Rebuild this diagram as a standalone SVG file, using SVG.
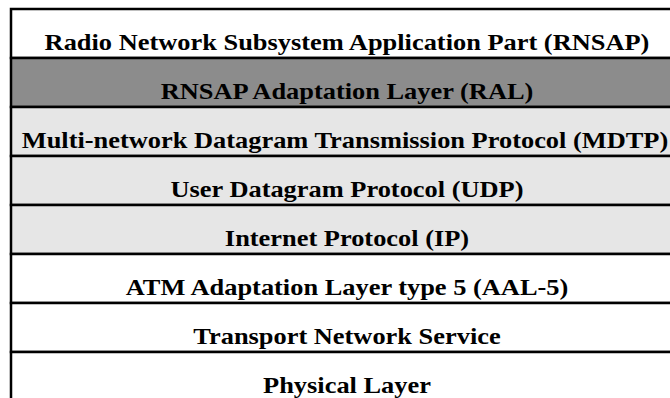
<svg xmlns="http://www.w3.org/2000/svg" width="670" height="398" viewBox="0 0 670 398">
<style>
.row{stroke:#000;stroke-width:2.5}
.w{fill:#fff}.d{fill:#8c8c8c}.l{fill:#e6e6e6}
text{font-family:"Liberation Serif","Times New Roman",serif;font-weight:bold;font-size:24px;fill:#000;text-anchor:middle}
</style>
<rect x="0" y="0" width="670" height="398" fill="#fff"/>
<g id="rnsap"><rect class="row w" x="11" y="9" width="670" height="49"/><text transform="translate(347,50) scale(1.1,1)">Radio Network Subsystem Application Part (RNSAP)</text></g>
<g id="ral"><rect class="row d" x="11" y="58" width="670" height="49"/><text transform="translate(347,99) scale(1.1,1)">RNSAP Adaptation Layer (RAL)</text></g>
<g id="mdtp"><rect class="row l" x="11" y="107" width="670" height="49"/><text transform="translate(345,148) scale(1.1,1)">Multi-network Datagram Transmission Protocol (MDTP)</text></g>
<g id="udp"><rect class="row l" x="11" y="156" width="670" height="49"/><text transform="translate(347,197) scale(1.1,1)">User Datagram Protocol (UDP)</text></g>
<g id="ip"><rect class="row l" x="11" y="205" width="670" height="49"/><text transform="translate(347,246) scale(1.1,1)">Internet Protocol (IP)</text></g>
<g id="aal5"><rect class="row w" x="11" y="254" width="670" height="49"/><text transform="translate(347,295) scale(1.1,1)">ATM Adaptation Layer type 5 (AAL-5)</text></g>
<g id="tns"><rect class="row w" x="11" y="303" width="670" height="49"/><text transform="translate(347,344) scale(1.1,1)">Transport Network Service</text></g>
<g id="phy"><rect class="row w" x="11" y="352" width="670" height="60"/><text transform="translate(347,393) scale(1.1,1)">Physical Layer</text></g>
</svg>
